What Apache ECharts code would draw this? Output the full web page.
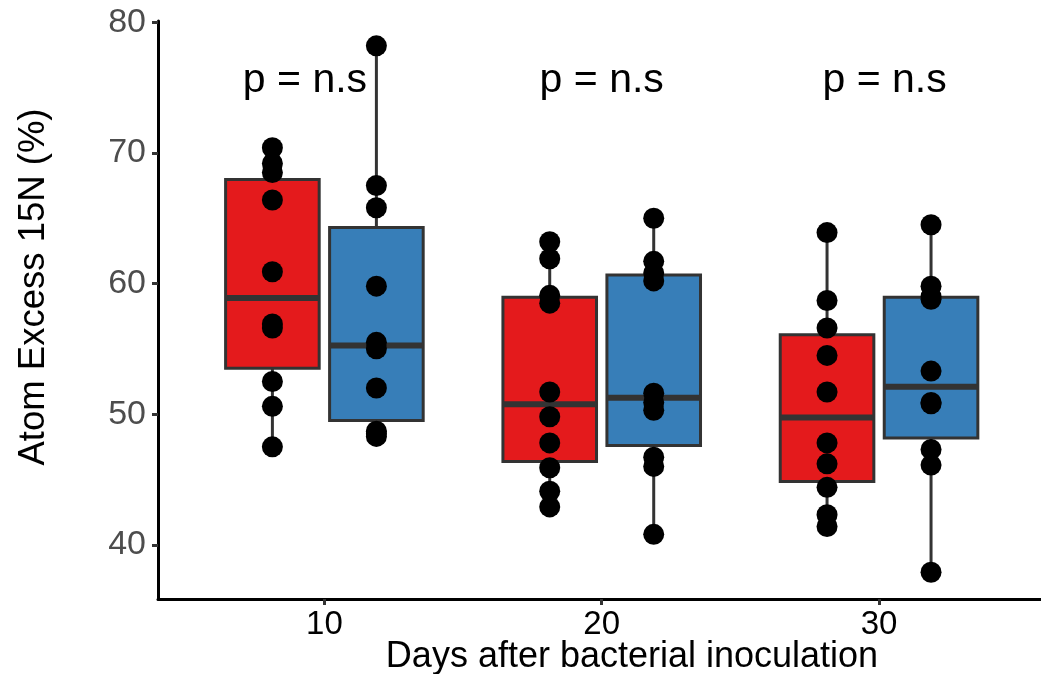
<!DOCTYPE html>
<html>
<head>
<meta charset="utf-8">
<script src="https://cdn.jsdelivr.net/npm/echarts@6/dist/echarts.min.js"></script>
<style>
html,body{margin:0;padding:0;background:#fff;}
#chart{width:1041px;height:674px;}
</style>
</head>
<body>
<div id="chart"></div>
<script>
// ---- data ----
const categories = ['10', '20', '30'];
const yTicks = [40, 50, 60, 70, 80];
const redValues = [
  [70.4, 69.2, 68.5, 66.4, 60.9, 56.9, 56.6, 52.5, 50.6, 47.5],
  [63.2, 61.9, 59.1, 58.5, 51.7, 49.8, 47.8, 45.9, 44.1, 42.9],
  [63.9, 58.7, 56.6, 54.5, 51.7, 47.8, 46.2, 44.4, 42.3, 41.4]
];
const blueValues = [
  [78.2, 67.5, 65.8, 59.8, 55.5, 55.0, 52.0, 48.7, 48.5, 48.3],
  [65.0, 61.7, 60.8, 60.2, 51.6, 50.9, 50.3, 46.7, 46.0, 40.8],
  [64.5, 59.8, 59.0, 58.8, 53.3, 50.9, 50.8, 47.3, 46.1, 37.9]
];
const pLabels = ['p = n.s', 'p = n.s', 'p = n.s'];
const pLabelX = [0.93, 2.0, 3.02];
const pLabelY = 75.5;

// ---- helpers ----
const FONT = "'Liberation Sans', Arial, Helvetica, sans-serif";
const DODGE = 0.1875, BOXW = 0.3375;

function quantile(sorted, p) {
  const h = (sorted.length - 1) * p;
  const lo = Math.floor(h), hi = Math.ceil(h);
  return sorted[lo] + (h - lo) * (sorted[hi] - sorted[lo]);
}
function boxStats(vals, x) {
  const s = vals.slice().sort((a, b) => a - b);
  const q1 = quantile(s, 0.25), med = quantile(s, 0.5), q3 = quantile(s, 0.75);
  const iqr = q3 - q1;
  const lo = s.find(v => v >= q1 - 1.5 * iqr);
  const hi = s.slice().reverse().find(v => v <= q3 + 1.5 * iqr);
  return [x, q1, med, q3, lo, hi];
}
function makeBoxData(groups, off) {
  return groups.map((g, i) => boxStats(g, i + 1 + off));
}
function makePoints(groups, off) {
  const pts = [];
  groups.forEach((g, i) => g.forEach(v => pts.push([i + 1 + off, v])));
  return pts;
}
function boxRenderer(fillColor) {
  return function (params, api) {
    const x = api.value(0), q1 = api.value(1), med = api.value(2),
          q3 = api.value(3), lo = api.value(4), hi = api.value(5);
    const h = BOXW / 2;
    const tl = api.coord([x - h, q3]), br = api.coord([x + h, q1]);
    const ml = api.coord([x - h, med]), mr = api.coord([x + h, med]);
    const pHi = api.coord([x, hi]), pQ3 = api.coord([x, q3]);
    const pQ1 = api.coord([x, q1]), pLo = api.coord([x, lo]);
    const stroke = '#333333';
    return {
      type: 'group',
      children: [
        { type: 'line', shape: { x1: pHi[0], y1: pHi[1], x2: pQ3[0], y2: pQ3[1] }, style: { stroke, lineWidth: 3 } },
        { type: 'line', shape: { x1: pQ1[0], y1: pQ1[1], x2: pLo[0], y2: pLo[1] }, style: { stroke, lineWidth: 3 } },
        { type: 'rect', shape: { x: tl[0], y: tl[1], width: br[0] - tl[0], height: br[1] - tl[1] }, style: { fill: fillColor, stroke, lineWidth: 3 } },
        { type: 'line', shape: { x1: ml[0], y1: ml[1], x2: mr[0], y2: mr[1] }, style: { stroke, lineWidth: 6 } }
      ]
    };
  };
}

const chart = echarts.init(document.getElementById('chart'), null, { renderer: 'canvas' });
const option = {
  backgroundColor: '#ffffff',
  animation: false,
  grid: { left: 158, right: 0, top: 21, bottom: 75, containLabel: false },
  xAxis: {
    type: 'value', min: 0.4, max: 3.584,
    axisLine: { show: true, lineStyle: { color: '#000', width: 3 } },
    axisTick: { show: true, customValues: [1, 2, 3], length: 6, lineStyle: { color: '#333', width: 3 } },
    axisLabel: { customValues: [1, 2, 3], formatter: v => categories[Math.round(v) - 1], color: '#000', fontSize: 33, fontFamily: FONT, margin: 9 },
    splitLine: { show: false }
  },
  yAxis: {
    type: 'value', min: 35.85, max: 80.1,
    axisLine: { show: true, lineStyle: { color: '#000', width: 3 } },
    axisTick: { show: true, customValues: yTicks, length: 6, lineStyle: { color: '#333', width: 3 } },
    axisLabel: { customValues: yTicks, color: '#4D4D4D', fontSize: 34, fontFamily: FONT, margin: 12 },
    splitLine: { show: false }
  },
  graphic: [
    { type: 'text', x: 632, y: 657, style: { text: 'Days after bacterial inoculation', font: '36px ' + FONT, fill: '#000', textAlign: 'center', textVerticalAlign: 'middle', align: 'center', verticalAlign: 'middle' } },
    { type: 'text', x: 34, y: 287, rotation: Math.PI / 2, style: { text: 'Atom Excess 15N (%)', font: '36.5px ' + FONT, fill: '#000', textAlign: 'center', textVerticalAlign: 'middle', align: 'center', verticalAlign: 'middle' } }
  ],
  series: [
    { type: 'custom', name: 'red box', data: makeBoxData(redValues, -DODGE), renderItem: boxRenderer('#E41A1C'), z: 2, encode: { x: 0, y: [1, 2, 3, 4, 5] } },
    { type: 'custom', name: 'blue box', data: makeBoxData(blueValues, DODGE), renderItem: boxRenderer('#377EB8'), z: 2, encode: { x: 0, y: [1, 2, 3, 4, 5] } },
    { type: 'scatter', data: makePoints(redValues, -DODGE), symbolSize: 21, itemStyle: { color: '#000', opacity: 1 }, z: 5 },
    { type: 'scatter', data: makePoints(blueValues, DODGE), symbolSize: 21, itemStyle: { color: '#000', opacity: 1 }, z: 5 },
    {
      type: 'custom', z: 6,
      data: pLabels.map((t, i) => [pLabelX[i], pLabelY, t]),
      encode: { x: 0, y: 1 },
      renderItem: function (params, api) {
        const p = api.coord([api.value(0), api.value(1)]);
        return { type: 'text', x: p[0], y: p[1], style: { text: pLabels[params.dataIndex], font: '41px ' + FONT, fill: '#000', textAlign: 'center', textVerticalAlign: 'middle', align: 'center', verticalAlign: 'middle' } };
      }
    }
  ]
};
chart.setOption(option);
</script>
</body>
</html>
